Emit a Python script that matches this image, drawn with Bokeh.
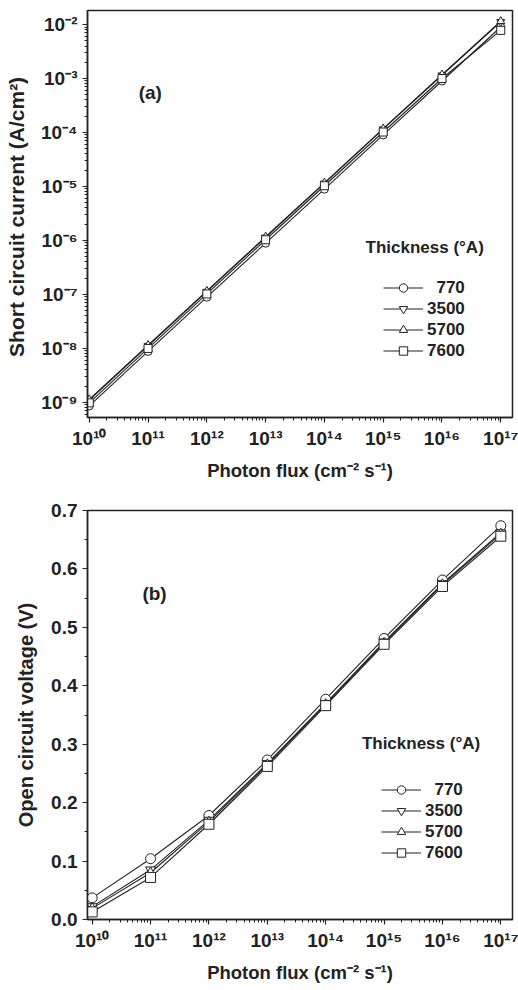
from bokeh.plotting import figure
from bokeh.layouts import column
from bokeh.models import (FixedTicker, CustomJSTickFormatter, NumeralTickFormatter,
                          Legend, LegendItem, Label)
from bokeh.embed import file_html
from bokeh.resources import INLINE

# ---------------- data ----------------
flux = [1e10, 1e11, 1e12, 1e13, 1e14, 1e15, 1e16, 1e17]
thickness_labels = ["\u2007770", "3500", "5700", "7600"]
markers = ["circle", "inverted_triangle", "triangle", "square"]

jsc_770 = [8.6e-10, 8.8e-9, 8.9e-8, 8.9e-7, 8.9e-6, 9.0e-5, 9.0e-4, 9.0e-3]
jsc_3500 = [1.10e-9, 1.12e-8, 1.13e-7, 1.14e-6, 1.14e-5, 1.15e-4, 1.15e-3, 1.12e-2]
jsc_5700 = [1.13e-9, 1.15e-8, 1.16e-7, 1.17e-6, 1.17e-5, 1.18e-4, 1.18e-3, 1.15e-2]
jsc_7600 = [0.98e-9, 1.0e-8, 1.02e-7, 1.03e-6, 1.03e-5, 1.02e-4, 1.0e-3, 7.8e-3]

voc_770 = [0.037, 0.104, 0.178, 0.273, 0.377, 0.481, 0.581, 0.674]
voc_3500 = [0.022, 0.085, 0.170, 0.267, 0.370, 0.475, 0.575, 0.662]
voc_5700 = [0.019, 0.080, 0.167, 0.265, 0.368, 0.473, 0.573, 0.660]
voc_7600 = [0.013, 0.072, 0.163, 0.262, 0.366, 0.471, 0.570, 0.656]

x_decades = list(range(10, 18))
y_decades = list(range(-9, -1))
voc_ticks = [0.0, 0.1, 0.2, 0.3, 0.4, 0.5, 0.6, 0.7]
voc_minor = [0.05, 0.15, 0.25, 0.35, 0.45, 0.55, 0.65]

FONT = "Liberation Sans"
INK = "#222222"

sup_js = """
const sup = {'0':'\u2070','1':'\u00b9','2':'\u00b2','3':'\u00b3','4':'\u2074','5':'\u2075',
             '6':'\u2076','7':'\u2077','8':'\u2078','9':'\u2079','-':'\u207b'};
const e = Math.round(Math.log10(tick));
return '10' + String(e).split('').map(c => sup[c]).join('');
"""


def log_minor(decades):
    out = []
    for d in decades:
        for m in range(2, 10):
            out.append(m * 10.0 ** d)
    return out


def style(p):
    p.outline_line_color = INK
    p.outline_line_width = 1.5
    p.grid.visible = False
    p.background_fill_color = "white"
    p.border_fill_color = "white"
    for ax in [p.xaxis[0], p.yaxis[0]]:
        ax.axis_line_color = INK
        ax.axis_line_width = 1.5
        ax.major_tick_line_color = INK
        ax.major_tick_line_width = 1.2
        ax.minor_tick_line_color = INK
        ax.major_tick_in = 0
        ax.major_tick_out = 5
        ax.minor_tick_in = 0
        ax.minor_tick_out = 3
        ax.major_label_text_font = FONT
        ax.major_label_text_font_style = "bold"
        ax.major_label_text_font_size = "19px"
        ax.major_label_text_color = INK
        ax.axis_label_text_font = FONT
        ax.axis_label_text_font_style = "bold"
        ax.axis_label_text_font_size = "18.5px"
        ax.axis_label_text_color = INK


def add_series(p, ys, size):
    items = []
    lines = []
    for y in ys:
        lines.append(p.line(flux, y, line_color=INK, line_width=1.1))
    for y, mk, lab, lr in zip(ys, markers, thickness_labels, lines):
        mr = p.scatter(flux, y, marker=mk, size=size, fill_color="white",
                       line_color=INK, line_width=1.0)
        items.append(LegendItem(label=lab, renderers=[lr, mr]))
    return items


def make_legend(items, loc):
    lg = Legend(items=items, location=loc, padding=0, margin=0, spacing=0,
                border_line_color=None, background_fill_alpha=0,
                glyph_width=40, glyph_height=21, label_height=21,
                label_standoff=4,
                label_text_font=FONT, label_text_font_style="bold",
                label_text_font_size="17px", label_text_color=INK)
    return lg


# ---------------- panel (a) ----------------
p1 = figure(width=518, height=490, x_axis_type="log", y_axis_type="log",
            x_range=(10 ** 9.97, 10 ** 17.2), y_range=(10 ** -9.28, 10 ** -1.74),
            output_backend="svg", toolbar_location=None,
            min_border_left=87, min_border_right=3, min_border_top=10, min_border_bottom=73)
style(p1)
p1.xaxis.ticker = FixedTicker(ticks=[10.0 ** d for d in x_decades], minor_ticks=log_minor(x_decades[:-1]))
p1.yaxis.ticker = FixedTicker(ticks=[10.0 ** d for d in y_decades], minor_ticks=log_minor([-10] + y_decades))
p1.xaxis.formatter = CustomJSTickFormatter(code=sup_js)
p1.yaxis.formatter = CustomJSTickFormatter(code=sup_js)
p1.xaxis.axis_label = "Photon flux (cm\u207b\u00b2 s\u207b\u00b9)"
p1.yaxis.axis_label = "Short circuit current  (A/cm\u00b2)"
p1.yaxis.axis_label_text_font_size = "21px"
p1.xaxis.axis_label_standoff = 8
p1.yaxis.axis_label_standoff = 10

items1 = add_series(p1, [jsc_770, jsc_3500, jsc_5700, jsc_7600], 8)
p1.add_layout(make_legend(items1, (296, 56)))
p1.add_layout(Label(x=10 ** 14.70, y=10 ** -6.13, text="Thickness (\u00b0A)", text_baseline="middle",
                    text_font=FONT, text_font_style="bold", text_font_size="17px", text_color=INK))
p1.add_layout(Label(x=10 ** 10.84, y=10 ** -3.26, text="(a)", text_baseline="middle",
                    text_font=FONT, text_font_style="bold", text_font_size="19px", text_color=INK))

# ---------------- panel (b) ----------------
p2 = figure(width=518, height=500, x_axis_type="log",
            x_range=(10 ** 9.92, 10 ** 17.2), y_range=(0, 0.7),
            output_backend="svg", toolbar_location=None,
            min_border_left=83, min_border_right=6, min_border_top=20, min_border_bottom=71)
style(p2)
p2.xaxis.ticker = FixedTicker(ticks=[10.0 ** d for d in x_decades], minor_ticks=log_minor(x_decades[:-1]))
p2.yaxis.ticker = FixedTicker(ticks=voc_ticks, minor_ticks=voc_minor)
p2.xaxis.formatter = CustomJSTickFormatter(code=sup_js)
p2.yaxis.formatter = NumeralTickFormatter(format="0.0")
p2.xaxis.axis_label = "Photon flux (cm\u207b\u00b2 s\u207b\u00b9)"
p2.yaxis.axis_label = "Open circuit voltage (V)"
p2.yaxis.axis_label_text_font_size = "20px"
p2.xaxis.axis_label_standoff = 8
p2.yaxis.axis_label_standoff = 11

items2 = add_series(p2, [voc_770, voc_3500, voc_5700, voc_7600], 10)
p2.add_layout(make_legend(items2, (294, 56)))
p2.add_layout(Label(x=10 ** 14.62, y=0.301, text="Thickness (\u00b0A)", text_baseline="middle",
                    text_font=FONT, text_font_style="bold", text_font_size="17px", text_color=INK))
p2.add_layout(Label(x=10 ** 10.86, y=0.558, text="(b)", text_baseline="middle",
                    text_font=FONT, text_font_style="bold", text_font_size="19px", text_color=INK))

layout = column(p1, p2, spacing=0)
open("out.html", "w").write(file_html(layout, INLINE))
